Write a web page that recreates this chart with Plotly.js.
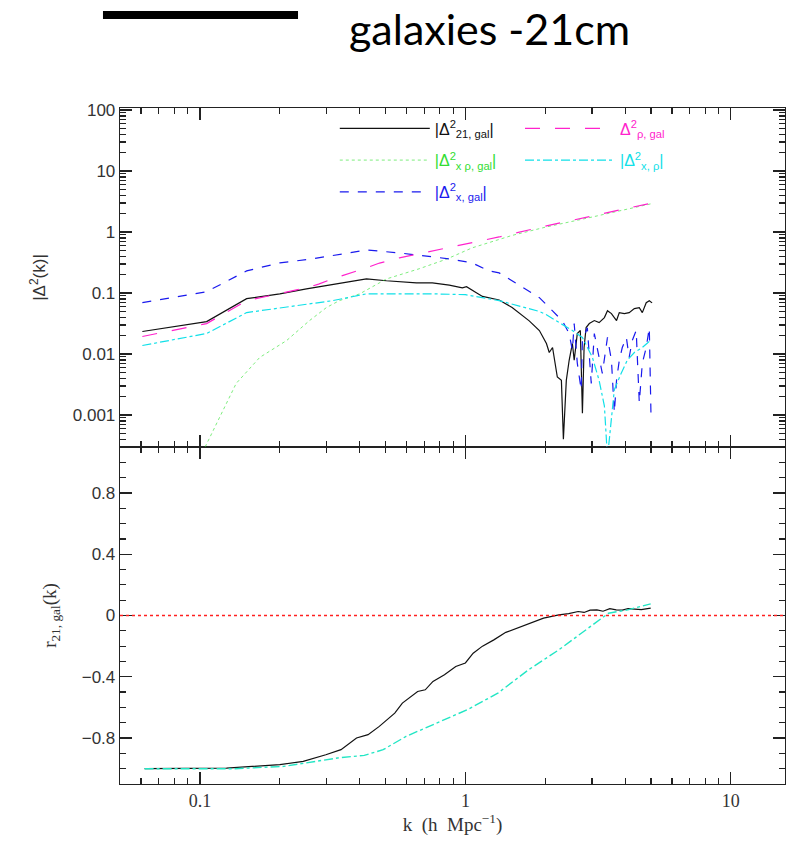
<!DOCTYPE html>
<html>
<head>
<meta charset="utf-8">
<script src="https://cdn.plot.ly/plotly-3.0.1.min.js"></script>
<style>html,body{margin:0;padding:0;background:#fff;}#chart{width:791px;height:841px;}</style>
</head>
<body>
<div id="chart"></div>
<script>
// ---------- upper panel: |Delta^2(k)| ----------
const kBlack = [0.0607, 0.106, 0.15, 0.2, 0.252, 0.316, 0.424, 0.504, 0.654, 0.751, 0.87, 0.974, 1.01, 1.1, 1.16, 1.34, 1.5, 1.74, 1.90, 2.02, 2.07, 2.13, 2.22, 2.30, 2.34, 2.40, 2.46, 2.53, 2.57, 2.64, 2.71, 2.76, 2.80, 2.85, 2.93, 3.06, 3.19, 3.34, 3.43, 3.55, 3.71, 3.80, 3.97, 4.14, 4.33, 4.52, 4.64, 4.80, 4.93, 5.05];
const dBlack = [0.0234, 0.034, 0.081, 0.097, 0.117, 0.137, 0.171, 0.159, 0.147, 0.147, 0.135, 0.122, 0.127, 0.101, 0.088, 0.077, 0.058, 0.035, 0.0243, 0.0149, 0.0106, 0.0128, 0.0042, 0.0037, 0.0004, 0.0037, 0.0079, 0.0149, 0.0079, 0.0217, 0.0243, 0.00107, 0.0128, 0.0272, 0.0316, 0.0354, 0.0328, 0.0396, 0.0514, 0.046, 0.0354, 0.0477, 0.046, 0.0477, 0.0555, 0.0576, 0.0477, 0.0694, 0.075, 0.069];

const kMag = [0.0607, 0.106, 0.15, 0.2, 0.252, 0.28, 0.316, 0.424, 0.475, 0.564, 0.75, 1.0, 1.34, 2.0, 3.0, 4.0, 5.0];
const dMag = [0.0194, 0.0316, 0.075, 0.097, 0.122, 0.14, 0.171, 0.259, 0.31, 0.377, 0.49, 0.637, 0.83, 1.25, 1.82, 2.37, 2.97];

const kGreen = [0.1, 0.137, 0.168, 0.212, 0.258, 0.3, 0.335, 0.4, 0.504, 0.67, 0.85, 1.06, 1.5, 2.0, 3.0, 4.0, 5.0];
const dGreen = [0.0002, 0.0033, 0.0088, 0.0166, 0.035, 0.058, 0.075, 0.097, 0.17, 0.25, 0.36, 0.55, 0.88, 1.2, 1.76, 2.3, 2.9];

const kBlue = [0.0607, 0.106, 0.15, 0.2, 0.265, 0.424, 0.564, 0.713, 0.87, 1.06, 1.23, 1.34, 1.5, 1.9, 2.13, 2.32, 2.46, 2.53, 2.57, 2.64, 2.73, 2.76, 2.88, 2.98, 3.06, 3.19, 3.28, 3.43, 3.55, 3.64, 3.71, 3.80, 3.90, 4.04, 4.14, 4.25, 4.40, 4.52, 4.64, 4.80, 4.93, 5.0];
const dBlue = [0.0695, 0.105, 0.231, 0.312, 0.363, 0.508, 0.454, 0.406, 0.363, 0.312, 0.23, 0.214, 0.159, 0.084, 0.051, 0.035, 0.0217, 0.0115, 0.0316, 0.0071, 0.0026, 0.0166, 0.027, 0.0033, 0.0217, 0.0088, 0.0048, 0.0187, 0.0079, 0.0011, 0.0037, 0.0079, 0.0128, 0.0187, 0.0088, 0.0166, 0.0243, 0.0016, 0.0071, 0.0128, 0.027, 0.0011];

const kCyan = [0.0607, 0.106, 0.15, 0.2, 0.316, 0.424, 0.564, 0.75, 1.0, 1.34, 1.90, 2.02, 2.20, 2.53, 2.76, 3.01, 3.19, 3.34, 3.43, 3.55, 3.64, 3.86, 4.07, 4.33, 4.64, 4.83, 5.0];
const dCyan = [0.0138, 0.0217, 0.0478, 0.0575, 0.075, 0.097, 0.097, 0.097, 0.094, 0.075, 0.05, 0.044, 0.035, 0.0243, 0.0187, 0.0088, 0.0037, 0.0014, 0.0002, 0.0008, 0.0026, 0.0048, 0.0079, 0.0106, 0.0128, 0.0149, 0.017];

// ---------- lower panel: r_21,gal(k) ----------
const kRBlack = [0.0619, 0.126, 0.2, 0.245, 0.298, 0.34, 0.389, 0.43, 0.474, 0.542, 0.579, 0.661, 0.706, 0.755, 0.834, 0.92, 1.0, 1.07, 1.16, 1.28, 1.42, 1.56, 1.73, 1.97, 2.25, 2.45, 2.66, 2.8, 2.95, 3.13, 3.3, 3.5, 3.7, 3.9, 4.1, 4.37, 4.6, 4.99];
const rBlack = [-1.0, -0.996, -0.974, -0.952, -0.909, -0.876, -0.80, -0.778, -0.724, -0.637, -0.572, -0.496, -0.485, -0.43, -0.387, -0.333, -0.31, -0.246, -0.2, -0.159, -0.11, -0.083, -0.05, -0.017, 0.004, 0.012, 0.026, 0.02, 0.035, 0.037, 0.028, 0.045, 0.037, 0.035, 0.045, 0.041, 0.038, 0.048];

const kRCyan = [0.0619, 0.135, 0.207, 0.27, 0.33, 0.416, 0.49, 0.598, 0.78, 1.017, 1.325, 1.73, 2.25, 2.94, 3.46, 4.09, 4.99];
const rCyan = [-1.0, -1.0, -0.985, -0.952, -0.93, -0.913, -0.876, -0.789, -0.702, -0.615, -0.507, -0.354, -0.224, -0.072, 0.015, 0.037, 0.076];

const xTickVals = [0.1, 1, 10];
const xTickText = ['0.1', '1', '10'];
const yTickVals = [0.001, 0.01, 0.1, 1, 10, 100];
const yTickText = ['0.001', '0.01', '0.1', '1', '10', '100'];

const col = {black:'#111111', mag:'#ff22cc', green:'rgba(40,225,40,0.6)', greenTxt:'#33dd33', blue:'#1a1aee', cyan:'#11e0e8', cyan2:'#22e6c4', red:'#ff2020'};

function lab(txt, c){ return '<span style="color:' + c + '">' + txt + '</span>'; }

const traces = [
  {x:kBlack, y:dBlack, xaxis:'x2', yaxis:'y2', mode:'lines', line:{color:col.black, width:1.2},
   name:lab('|Δ<sup>2</sup><sub>21, gal</sub>|', col.black), legend:'legend', legendgroup:'a'},
  {x:kGreen, y:dGreen, xaxis:'x2', yaxis:'y2', mode:'lines', line:{color:col.green, width:1, dash:'dot'},
   name:lab('|Δ<sup>2</sup><sub>x ρ, gal</sub>|', col.greenTxt), legend:'legend', legendgroup:'b'},
  {x:kBlue, y:dBlue, xaxis:'x2', yaxis:'y2', mode:'lines', line:{color:col.blue, width:1.2, dash:'dash'},
   name:lab('|Δ<sup>2</sup><sub>x, gal</sub>|', col.blue), legend:'legend', legendgroup:'c'},
  {x:kMag, y:dMag, xaxis:'x2', yaxis:'y2', mode:'lines', line:{color:col.mag, width:1.2, dash:'longdash'},
   name:lab('Δ<sup>2</sup><sub>ρ, gal</sub>', col.mag), legend:'legend2', legendgroup:'d'},
  {x:kCyan, y:dCyan, xaxis:'x2', yaxis:'y2', mode:'lines', line:{color:col.cyan, width:1.2, dash:'dashdot'},
   name:lab('|Δ<sup>2</sup><sub>x, ρ</sub>|', col.cyan), legend:'legend2', legendgroup:'e'},
  {x:kRBlack, y:rBlack, xaxis:'x', yaxis:'y', mode:'lines', line:{color:col.black, width:1.2}, showlegend:false},
  {x:kRCyan, y:rCyan, xaxis:'x', yaxis:'y', mode:'lines', line:{color:col.cyan2, width:1.4, dash:'dashdot'}, showlegend:false}
];

const axCommon = {showline:true, linecolor:'#222', linewidth:1.3, mirror:'ticks', ticks:'inside',
  tickcolor:'#222', tickwidth:1.2, showgrid:false, zeroline:false};

const split = 0.4985;
const layout = {
  width:791, height:841,
  margin:{l:120, r:6, t:108, b:57},
  paper_bgcolor:'#fff', plot_bgcolor:'#fff',
  showlegend:true,
  xaxis: Object.assign({}, axCommon, {type:'log', range:[-1.301, 1.204], anchor:'y',
    tickmode:'array', tickvals:xTickVals, ticktext:xTickText, ticklen:12,
    minor:{ticks:'inside', ticklen:6, dtick:'D1', tickcolor:'#222', showgrid:false},
    tickfont:{family:'Liberation Serif', size:18, color:'#333'},
    title:{text:'k  (h  Mpc<sup>−1</sup>)', font:{family:'Liberation Serif', size:19, color:'#333'}, standoff:6}}),
  xaxis2: Object.assign({}, axCommon, {type:'log', range:[-1.301, 1.204], anchor:'y2', matches:'x',
    tickmode:'array', tickvals:xTickVals, ticktext:xTickText, ticklen:12, showticklabels:false,
    minor:{ticks:'inside', ticklen:6, dtick:'D1', tickcolor:'#222', showgrid:false}}),
  yaxis: Object.assign({}, axCommon, {domain:[0, split], range:[-1.1, 1.1], tick0:0, dtick:0.4, ticklen:12,
    minor:{ticks:'inside', ticklen:6, dtick:0.1, tickcolor:'#222', showgrid:false},
    tickfont:{family:'Liberation Sans', size:17, color:'#333'},
    title:{text:'r<sub>21, gal</sub>(k)', font:{family:'Liberation Serif', size:19, color:'#333'}, standoff:20}}),
  yaxis2: Object.assign({}, axCommon, {type:'log', domain:[split, 1], range:[-3.524, 2.033], anchor:'x2',
    tickmode:'array', tickvals:yTickVals, ticktext:yTickText, ticklen:12,
    minor:{ticks:'inside', ticklen:6, dtick:'D1', tickcolor:'#222', showgrid:false},
    tickfont:{family:'Liberation Sans', size:17, color:'#333'},
    title:{text:'|Δ<sup>2</sup>(k)|', font:{family:'Liberation Sans', size:17, color:'#333'}, standoff:22}}),
  legend:{x:0.323, y:0.995, xanchor:'left', yanchor:'top', bgcolor:'rgba(0,0,0,0)', borderwidth:0,
    font:{family:'Liberation Sans', size:16}, tracegroupgap:8, itemwidth:90},
  legend2:{x:0.6015, y:0.995, xanchor:'left', yanchor:'top', bgcolor:'rgba(0,0,0,0)', borderwidth:0,
    font:{family:'Liberation Sans', size:16}, tracegroupgap:8, itemwidth:90},
  shapes:[
    {type:'line', xref:'paper', yref:'y', x0:0, x1:1, y0:0, y1:0, line:{color:col.red, width:1.3, dash:'dot'}},
    {type:'rect', xref:'paper', yref:'paper', x0:-0.0256, x1:0.2677, y0:1.1317, y1:1.1435, fillcolor:'#000', line:{width:0}}
  ],
  annotations:[
    {text:'galaxies -21cm', xref:'paper', yref:'paper', x:0.342, y:1.117, xanchor:'left', yanchor:'middle',
     showarrow:false, font:{family:'Lato', size:43, color:'#000'}}
  ]
};

Plotly.newPlot('chart', traces, layout, {displayModeBar:false, staticPlot:true});
</script>
</body>
</html>
